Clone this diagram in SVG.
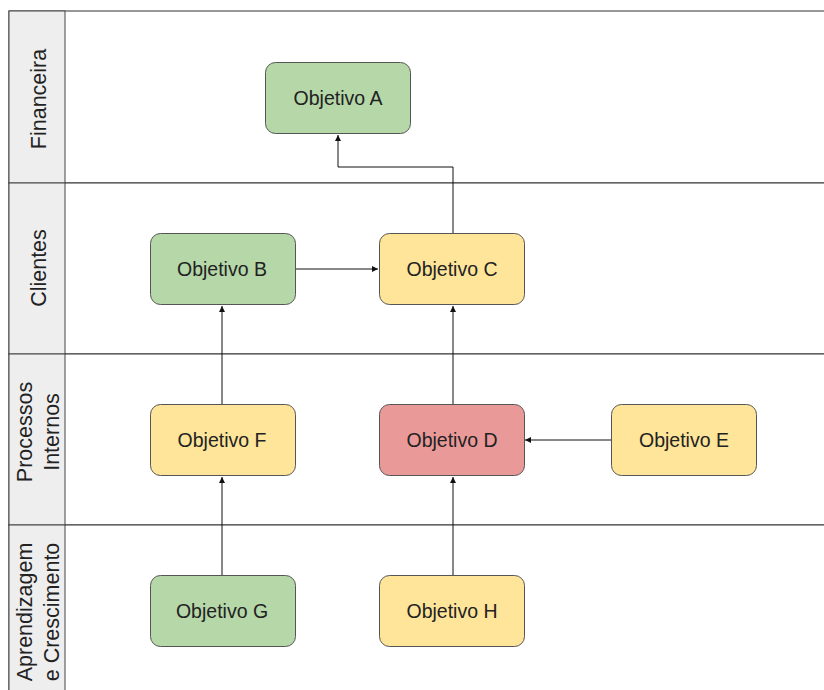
<svg xmlns="http://www.w3.org/2000/svg" width="824" height="690" viewBox="0 0 824 690">
<defs>
<style>
.lane{fill:#ffffff;stroke:#333333;stroke-width:1}
.hdr{fill:#eeeeee;stroke:#444444;stroke-width:1}
.lbl{font-family:"Liberation Sans",Arial,sans-serif;font-size:21.5px;fill:#222222;text-anchor:middle}
.node rect{stroke:#555555;stroke-width:1}
.node text{font-family:"Liberation Sans",Arial,sans-serif;font-size:19.5px;fill:#222222;text-anchor:middle;dominant-baseline:central}
.g{fill:#b6d7a8}.y{fill:#ffe599}.r{fill:#ea9999}
.conn path{fill:none;stroke:#111111;stroke-width:1;marker-end:url(#ah)}
</style>
<marker id="ah" viewBox="0 0 10 10" refX="10" refY="5" markerWidth="6" markerHeight="6" orient="auto" markerUnits="userSpaceOnUse">
<path d="M0,0 L10,5 L0,10 z" fill="#111111"/>
</marker>
</defs>
<rect width="824" height="690" fill="#ffffff"/>
<g id="lanes">
<rect class="lane" x="9" y="11" width="830" height="172"/>
<rect class="lane" x="9" y="183" width="830" height="171"/>
<rect class="lane" x="9" y="354" width="830" height="171"/>
<rect class="lane" x="9" y="525" width="830" height="180"/>
<rect class="hdr" x="9" y="11" width="56" height="172"/>
<rect class="hdr" x="9" y="183" width="56" height="171"/>
<rect class="hdr" x="9" y="354" width="56" height="171"/>
<rect class="hdr" x="9" y="525" width="56" height="180"/>
<text class="lbl" transform="translate(46,99) rotate(-90)">Financeira</text>
<text class="lbl" transform="translate(46,268) rotate(-90)">Clientes</text>
<text class="lbl" transform="translate(32,432) rotate(-90)">Processos</text>
<text class="lbl" transform="translate(59,432) rotate(-90)">Internos</text>
<text class="lbl" transform="translate(32,612) rotate(-90)">Aprendizagem</text>
<text class="lbl" transform="translate(59,612) rotate(-90)">e Crescimento</text>
</g>
<g class="conn" id="connectors">
<path d="M453,233 V167 H338 V135"/>
<path d="M295,269 H378"/>
<path d="M222,404 V306"/>
<path d="M453,404 V306"/>
<path d="M611,440 H525"/>
<path d="M222,575 V477"/>
<path d="M453,575 V477"/>
</g>
<g class="node" id="objA"><rect class="g" x="265.5" y="62.5" width="145" height="71" rx="10"/><text x="338" y="98">Objetivo A</text></g>
<g class="node" id="objB"><rect class="g" x="150.5" y="233.5" width="145" height="71" rx="10"/><text x="222" y="269">Objetivo B</text></g>
<g class="node" id="objC"><rect class="y" x="379.5" y="233.5" width="145" height="71" rx="10"/><text x="452" y="269">Objetivo C</text></g>
<g class="node" id="objF"><rect class="y" x="150.5" y="404.5" width="145" height="71" rx="10"/><text x="222" y="440">Objetivo F</text></g>
<g class="node" id="objD"><rect class="r" x="379.5" y="404.5" width="145" height="71" rx="10"/><text x="452" y="440">Objetivo D</text></g>
<g class="node" id="objE"><rect class="y" x="611.5" y="404.5" width="145" height="71" rx="10"/><text x="684" y="440">Objetivo E</text></g>
<g class="node" id="objG"><rect class="g" x="150.5" y="575.5" width="145" height="71" rx="10"/><text x="222" y="611">Objetivo G</text></g>
<g class="node" id="objH"><rect class="y" x="379.5" y="575.5" width="145" height="71" rx="10"/><text x="452" y="611">Objetivo H</text></g>
</svg>
